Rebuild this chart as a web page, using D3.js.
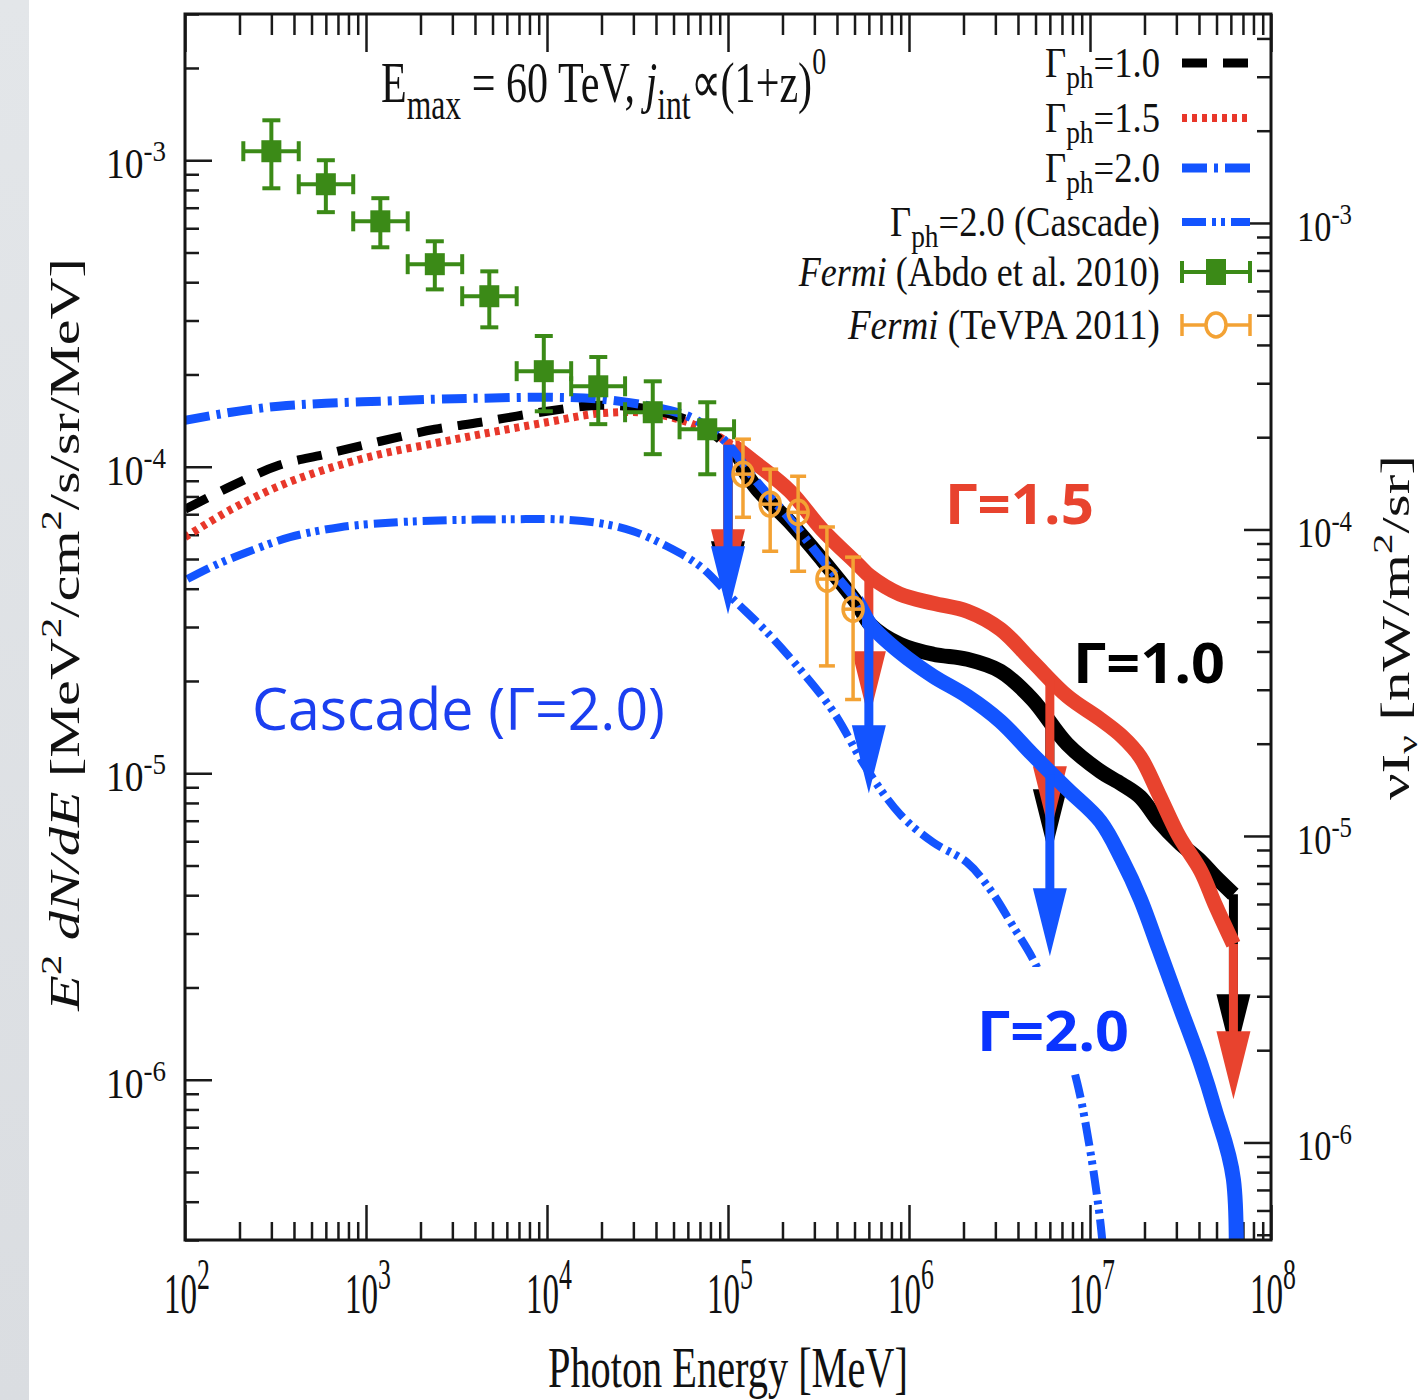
<!DOCTYPE html>
<html><head><meta charset="utf-8">
<script src="https://cdn.jsdelivr.net/npm/d3@7"></script>
<style>
body{margin:0;background:#fff;}
svg{display:block;}
text{white-space:pre;}
</style></head><body>
<svg id="chart" width="1423" height="1400"></svg>
<script>
// ---------------- data ----------------
const modelEnergy = [100,180,330,600,1200,2400,4300,1e4,2e4,3.7e4,6.2e4,9.4e4,1.45e5,2.2e5,3.3e5,5.2e5,6.1e5,8.9e5,1.36e6,2.1e6,3.2e6,4.8e6,7.5e6,1.14e7,1.5e7,1.9e7,2.4e7,3.1e7,4.1e7,4.9e7,6.2e7];
const gamma10 = [7.26e-5,8.64e-5,1.011e-4,1.099e-4,1.211e-4,1.325e-4,1.397e-4,1.517e-4,1.587e-4,1.540e-4,1.407e-4,1.202e-4,8.45e-5,6.59e-5,4.99e-5,3.56e-5,3.06e-5,2.636e-5,2.445e-5,2.354e-5,2.152e-5,1.743e-5,1.243e-5,1.015e-5,9.21e-6,8.35e-6,6.97e-6,5.95e-6,5.16e-6,4.61e-6,4.03e-6];
const gamma15 = [5.89e-5,7.26e-5,8.64e-5,9.81e-5,1.099e-4,1.193e-4,1.276e-4,1.397e-4,1.495e-4,1.495e-4,1.387e-4,1.229e-4,1.019e-4,8.32e-5,6.25e-5,4.81e-5,4.39e-5,3.84e-5,3.585e-5,3.377e-5,2.95e-5,2.319e-5,1.783e-5,1.500e-5,1.320e-5,1.128e-5,8.54e-6,6.23e-6,4.79e-6,3.74e-6,2.767e-6];
const gamma20Energy = [100,180,330,600,1200,2400,4300,1e4,2e4,3.7e4,6.2e4,9.4e4,1.45e5,2.2e5,3.3e5,5.2e5,6.1e5,8.9e5,1.36e6,2.1e6,3.2e6,4.8e6,7.5e6,1.14e7,1.5e7,1.9e7,2.4e7,3.1e7,4.1e7,4.9e7,6.2e7,6.2e7];
const gamma20 = [1.418e-4,1.506e-4,1.576e-4,1.611e-4,1.636e-4,1.661e-4,1.673e-4,1.685e-4,1.661e-4,1.576e-4,1.450e-4,1.229e-4,8.90e-5,6.74e-5,4.99e-5,3.61e-5,3.06e-5,2.481e-5,2.073e-5,1.783e-5,1.477e-5,1.153e-5,8.87e-6,6.97e-6,5.24e-6,3.88e-6,2.67e-6,1.763e-6,1.124e-6,8.01e-7,4.73e-7,1.0e-7];
const cascadeEnergy = [103,143,220,380,719,1484,2803,6490,11360,19630,29870,46030,70030,1.066e5,1.642e5,2.499e5,3.803e5,5.86e5,8.92e5,1.357e6,2.091e6,2.803e6,3.754e6,4.843e6,6.41e6,8.48e6,1.0e7,1.136e7,1.195e7];
const cascade20 = [4.30e-5,4.74e-5,5.26e-5,5.89e-5,6.35e-5,6.59e-5,6.69e-5,6.74e-5,6.74e-5,6.54e-5,6.16e-5,5.50e-5,4.74e-5,3.70e-5,2.884e-5,2.184e-5,1.593e-5,1.030e-5,7.35e-6,5.95e-6,5.12e-6,4.18e-6,3.17e-6,2.472e-6,1.698e-6,9.81e-7,5.93e-7,3.51e-7,2.60e-7];

// Fermi (Abdo et al. 2010)
const abdoEnergy = [300,600,1200,2400,4800,9600,19200,38400,76800];
const abdoELo = [210,425,850,1700,3400,6800,13600,27000,54000];
const abdoEHi = [425,850,1700,3400,6800,13600,27000,54000,108000];
const abdoFlux = [1.07e-3,8.35e-4,6.32e-4,4.58e-4,3.60e-4,2.05e-4,1.83e-4,1.506e-4,1.325e-4];
const abdoFluxLo = [8.10e-4,6.77e-4,5.20e-4,3.79e-4,2.85e-4,1.517e-4,1.377e-4,1.099e-4,9.45e-5];
const abdoFluxHi = [1.35e-3,1.0e-3,7.52e-4,5.44e-4,4.34e-4,2.67e-4,2.28e-4,1.90e-4,1.623e-4];

// Fermi (TeVPA 2011)
const tevpaEnergy = [1.21e5,1.71e5,2.44e5,3.52e5,4.91e5];
const tevpaFlux = [9.46e-5,7.55e-5,7.10e-5,4.30e-5,3.43e-5];
const tevpaFluxLo = [6.84e-5,5.30e-5,4.56e-5,2.24e-5,1.74e-5];
const tevpaFluxHi = [1.23e-4,9.82e-5,9.31e-5,6.36e-5,5.07e-5];

// upper-limit arrows (energy, start flux, tip flux, model)
const arrowEnergy = [1e5,1e5,1e5,6e5,6e5,6e6,6e6,6e6,6.2e7,6.2e7];
const arrowFrom = [1.184e-4,1.229e-4,1.18e-4,4.39e-5,3.06e-5,1.5e-5,2.03e-5,9.9e-6,4.03e-6,2.77e-6];
const arrowTip = [3.43e-5,3.75e-5,3.30e-5,1.50e-5,8.6e-6,5.32e-6,6.32e-6,2.53e-6,1.14e-6,8.64e-7];
const arrowModel = ['g10','g15','g20','g15','g20','g10','g15','g20','g10','g15'];

const xTickExp = [2,3,4,5,6,7,8];
const yTickExp = [-3,-4,-5,-6];
const legendLabels = ['Γph=1.0','Γph=1.5','Γph=2.0','Γph=2.0 (Cascade)','Fermi (Abdo et al. 2010)','Fermi (TeVPA 2011)'];
const conv = 1.602; // MeV/cm^2/s/sr -> nW/m^2/sr

// ---------------- setup ----------------
const svg = d3.select('#chart');
const L = 185, R = 1271, T = 14, B = 1240;
const x = d3.scaleLog().domain([1e2, 1e8]).range([L, R]);
const y = d3.scaleLog().domain([3e-7, 3e-3]).range([B, T]);
const yR = d3.scaleLog().domain([3e-7 * conv, 3e-3 * conv]).range([B, T]);

const SERIF = "'Liberation Serif','Times New Roman',serif";
const SANS = "'Open Sans','Noto Sans',sans-serif";
const RED = '#e8432e', BLUE = '#1354ff', GREEN = '#3b8a17', ORANGE = '#f3a234';

svg.append('rect').attr('x', 0).attr('y', 0).attr('width', 1423).attr('height', 1400).attr('fill', '#fff');
const grad = svg.append('defs').append('linearGradient').attr('id', 'strip').attr('x1', 0).attr('y1', 0).attr('x2', 0).attr('y2', 1);
grad.append('stop').attr('offset', 0).attr('stop-color', '#e3e6e9');
grad.append('stop').attr('offset', 1).attr('stop-color', '#dadde1');
svg.append('rect').attr('x', 0).attr('y', 0).attr('width', 29).attr('height', 1400).attr('fill', 'url(#strip)');

const defs = svg.append('defs');
function clip(id, x0, x1) {
  defs.append('clipPath').attr('id', id).append('rect')
    .attr('x', x0).attr('y', T).attr('width', x1 - x0).attr('height', B - T);
}
clip('cLow', L, x(1.1e5));
clip('cHigh', x(1.1e5), R);
clip('cLowB', L, x(5.5e5));
clip('cHighB', x(5.5e5), R);
clip('cAll', L, R);

// ---------------- rich text helper ----------------
function rich(parent, parts, fs, family, opt = {}) {
  const g = parent.append('g');
  const t = g.append('text').attr('font-family', family).attr('font-size', fs)
    .attr('fill', opt.fill || '#111');
  if (opt.weight) t.attr('font-weight', opt.weight);
  let cur = 0;
  parts.forEach(p => {
    const off = p.sup ? -fs * (p.raise || 0.42) : p.sub ? fs * (p.drop || 0.28) : 0;
    const ts = t.append('tspan').text(p.t).attr('dy', off - cur);
    if (p.sup || p.sub) ts.attr('font-size', fs * (p.scale || 0.7));
    if (p.it) ts.attr('font-style', 'italic');
    cur = off;
  });
  return g;
}
function fit(g, px, py, width, anchor, rot) {
  const bb = g.select('text').node().getBBox();
  const sx = width / bb.width;
  let x0;
  if (anchor === 'end') x0 = -(bb.x + bb.width) * sx;
  else if (anchor === 'middle') x0 = -(bb.x + bb.width / 2) * sx;
  else x0 = -bb.x * sx;
  g.select('text').attr('transform', `translate(${x0},0) scale(${sx},1)`);
  g.attr('transform', `translate(${px},${py})` + (rot ? ` rotate(${rot})` : ''));
}

// ---------------- axes ----------------
const majorX = xTickExp.map(e => Math.pow(10, e));
const minorX = x.ticks().filter(v => !majorX.some(m => Math.abs(m - v) / m < 1e-6));
const majorY = yTickExp.map(e => Math.pow(10, e));
const minorY = y.ticks().filter(v => !majorY.some(m => Math.abs(m - v) / m < 1e-6));
const majorYR = majorY;
const minorYR = yR.ticks().filter(v => !majorYR.some(m => Math.abs(m - v) / m < 1e-6));

function axisG(axis, tx, ty) {
  const g = svg.append('g').attr('transform', `translate(${tx},${ty})`).call(axis);
  g.select('.domain').remove();
  g.selectAll('.tick line').attr('stroke', '#1a1a1a').attr('stroke-width', 2.5);
  g.selectAll('.tick text').remove();
  return g;
}
axisG(d3.axisBottom(x).tickValues(majorX).tickSize(-35).tickFormat(''), 0, B);
axisG(d3.axisBottom(x).tickValues(minorX).tickSize(-18).tickFormat(''), 0, B);
axisG(d3.axisTop(x).tickValues(majorX).tickSize(-38).tickFormat(''), 0, T);
axisG(d3.axisTop(x).tickValues(minorX).tickSize(-21).tickFormat(''), 0, T);
axisG(d3.axisLeft(y).tickValues(majorY).tickSize(-27).tickFormat(''), L, 0);
axisG(d3.axisLeft(y).tickValues(minorY).tickSize(-14).tickFormat(''), L, 0);
axisG(d3.axisRight(yR).tickValues(majorYR).tickSize(-27).tickFormat(''), R, 0);
axisG(d3.axisRight(yR).tickValues(minorYR).tickSize(-14).tickFormat(''), R, 0);

// tick labels
xTickExp.forEach(e => {
  const g = rich(svg, [{t: '10'}, {t: String(e), sup: true, raise: 0.42, scale: 0.78}], 57, SERIF);
  fit(g, x(Math.pow(10, e)) + 2, B + 73, 46, 'middle');
});
yTickExp.forEach(e => {
  const g = rich(svg, [{t: '10'}, {t: String(e), sup: true, raise: 0.4, scale: 0.72}], 42, SERIF);
  fit(g, 166, y(Math.pow(10, e)) + 18, 60, 'end');
  const g2 = rich(svg, [{t: '10'}, {t: String(e), sup: true, raise: 0.4, scale: 0.72}], 42, SERIF);
  fit(g2, 1297, yR(Math.pow(10, e)) + 18, 55, 'start');
});

// axis titles
fit(rich(svg, [{t: 'Photon Energy [MeV]'}], 57, SERIF), 548, 1387, 360, 'start');
fit(rich(svg, [{t: 'E', it: true}, {t: '2', sup: true}, {t: ' '}, {t: 'dN/dE', it: true}, {t: ' [MeV'}, {t: '2', sup: true}, {t: '/cm'}, {t: '2', sup: true}, {t: '/s/sr/MeV]'}], 43, SERIF),
  79, 1012, 754, 'start', -90);
fit(rich(svg, [{t: 'νI'}, {t: 'ν', sub: true, drop: 0.2}, {t: ' [nW/m'}, {t: '2', sup: true}, {t: '/sr]'}], 40, SERIF),
  1409, 800, 345, 'start', -90);

// title
fit(rich(svg, [{t: 'E'}, {t: 'max', sub: true, drop: 0.3, scale: 0.75}, {t: ' = 60 TeV, '}, {t: 'j', it: true}, {t: 'int', sub: true, drop: 0.3, scale: 0.75}, {t: '∝(1+z)'}, {t: '0', sup: true, raise: 0.48, scale: 0.66}], 58, SERIF),
  381, 102, 445, 'start');

// ---------------- curves ----------------
const lineGen = d3.line().x(d => x(d[0])).y(d => y(d[1])).curve(d3.curveCatmullRom.alpha(0.5));
const pts = (es, vs) => es.map((e, i) => [e, vs[i]]);
const dG10 = pts(modelEnergy, gamma10), dG15 = pts(modelEnergy, gamma15), dG20 = pts(gamma20Energy, gamma20), dCas = pts(cascadeEnergy, cascade20);
const styles = {
  g10: {color: '#000', dash: '25,16', w: 9},
  g15: {color: '#e8372a', dash: '5,5', w: 8},
  g20: {color: BLUE, dash: '25,7,4,7', w: 9},
  cas: {color: BLUE, dash: '24,6,4,5,4,6', w: 8}
};
function path(data, st, clipId, thick) {
  svg.append('path').attr('d', lineGen(data)).attr('fill', 'none')
    .attr('stroke', thick ? thick.color : st.color)
    .attr('stroke-width', thick ? thick.w : st.w)
    .attr('stroke-dasharray', thick ? null : st.dash)
    .attr('stroke-linejoin', 'round')
    .attr('clip-path', `url(#${clipId})`);
}
function arrows(model, color) {
  arrowEnergy.forEach((e, i) => {
    if (arrowModel[i] !== model) return;
    const ax = x(e), y0 = y(arrowFrom[i]), y1 = y(arrowTip[i]);
    const hl = 68, hw = 17;
    svg.append('line').attr('x1', ax).attr('x2', ax).attr('y1', y0).attr('y2', y1 - hl + 4)
      .attr('stroke', color).attr('stroke-width', 9);
    svg.append('path').attr('d', `M${ax - hw},${y1 - hl}L${ax + hw},${y1 - hl}L${ax},${y1}Z`).attr('fill', color);
  });
}
path(dG15, styles.g15, 'cLow');
path(dG10, styles.g10, 'cLow');
path(dG10, styles.g10, 'cHigh', {color: '#000', w: 15});
arrows('g10', '#000');
path(dG15, styles.g15, 'cHigh', {color: RED, w: 15});
arrows('g15', RED);
path(dG20, styles.g20, 'cLowB');
path(dCas, styles.cas, 'cAll');
path(dG20, styles.g20, 'cHighB', {color: BLUE, w: 15});
arrows('g20', BLUE);

// annotation labels
svg.append('rect').attr('x', 962).attr('y', 967).attr('width', 178).attr('height', 106).attr('fill', '#fff');
fit(rich(svg, [{t: 'Γ=1.5'}], 56, SANS, {fill: RED, weight: 700}), 945, 524, 149, 'start');
fit(rich(svg, [{t: 'Γ=1.0'}], 56, SANS, {fill: '#000', weight: 700}), 1073, 683, 152, 'start');
fit(rich(svg, [{t: 'Γ=2.0'}], 56, SANS, {fill: '#0a34ff', weight: 700}), 977, 1051, 152, 'start');
fit(rich(svg, [{t: 'Cascade (Γ=2.0)'}], 58, SANS, {fill: '#1b3ff0'}), 252, 730, 413, 'start');

// ---------------- data points ----------------
abdoEnergy.forEach((e, i) => {
  const cx = x(e), cy = y(abdoFlux[i]);
  const x0 = x(abdoELo[i]), x1 = x(abdoEHi[i]), y0 = y(abdoFluxHi[i]), y1 = y(abdoFluxLo[i]);
  const g = svg.append('g').attr('stroke', GREEN).attr('stroke-width', 4).attr('fill', GREEN);
  g.append('line').attr('x1', x0).attr('x2', x1).attr('y1', cy).attr('y2', cy);
  g.append('line').attr('x1', cx).attr('x2', cx).attr('y1', y0).attr('y2', y1);
  g.append('line').attr('x1', x0).attr('x2', x0).attr('y1', cy - 10).attr('y2', cy + 10);
  g.append('line').attr('x1', x1).attr('x2', x1).attr('y1', cy - 10).attr('y2', cy + 10);
  g.append('line').attr('x1', cx - 9).attr('x2', cx + 9).attr('y1', y0).attr('y2', y0);
  g.append('line').attr('x1', cx - 9).attr('x2', cx + 9).attr('y1', y1).attr('y2', y1);
  g.append('rect').attr('x', cx - 10).attr('y', cy - 11).attr('width', 20).attr('height', 22).attr('stroke', 'none');
});
tevpaEnergy.forEach((e, i) => {
  const cx = x(e), cy = y(tevpaFlux[i]), y0 = y(tevpaFluxHi[i]), y1 = y(tevpaFluxLo[i]);
  const g = svg.append('g').attr('stroke', ORANGE).attr('stroke-width', 3.5).attr('fill', 'none');
  g.append('line').attr('x1', cx).attr('x2', cx).attr('y1', y0).attr('y2', y1);
  g.append('line').attr('x1', cx - 8).attr('x2', cx + 8).attr('y1', y0).attr('y2', y0);
  g.append('line').attr('x1', cx - 8).attr('x2', cx + 8).attr('y1', y1).attr('y2', y1);
  g.append('line').attr('x1', cx - 10).attr('x2', cx + 10).attr('y1', cy).attr('y2', cy);
  g.append('ellipse').attr('cx', cx).attr('cy', cy).attr('rx', 10).attr('ry', 12);
});

// ---------------- frame ----------------
svg.append('rect').attr('x', L).attr('y', T).attr('width', R - L).attr('height', B - T)
  .attr('fill', 'none').attr('stroke', '#151515').attr('stroke-width', 3);

// ---------------- legend ----------------
const legY = [63, 118, 168, 222, 272, 325];
const legW = [115, 115, 115, 270, 362, 313];
const legendParts = [
  [{t: 'Γ'}, {t: 'ph', sub: true, drop: 0.27, scale: 0.75}, {t: '=1.0'}],
  [{t: 'Γ'}, {t: 'ph', sub: true, drop: 0.27, scale: 0.75}, {t: '=1.5'}],
  [{t: 'Γ'}, {t: 'ph', sub: true, drop: 0.27, scale: 0.75}, {t: '=2.0'}],
  [{t: 'Γ'}, {t: 'ph', sub: true, drop: 0.27, scale: 0.75}, {t: '=2.0 (Cascade)'}],
  [{t: 'Fermi', it: true}, {t: ' (Abdo et al. 2010)'}],
  [{t: 'Fermi', it: true}, {t: ' (TeVPA 2011)'}]
];
legendLabels.forEach((lab, i) => {
  const g = rich(svg, legendParts[i], 42, SERIF);
  g.select('text').attr('aria-label', lab);
  fit(g, 1160, legY[i] + 14, legW[i], 'end');
});
const lx0 = 1182, lx1 = 1250, lxm = 1216;
['g10', 'g15', 'g20', 'cas'].forEach((k, i) => {
  const st = styles[k];
  svg.append('line').attr('x1', lx0).attr('x2', lx1).attr('y1', legY[i]).attr('y2', legY[i])
    .attr('stroke', st.color).attr('stroke-width', st.w).attr('stroke-dasharray', st.dash);
});
{
  const gy = legY[4];
  const g = svg.append('g').attr('stroke', GREEN).attr('stroke-width', 4).attr('fill', GREEN);
  g.append('line').attr('x1', lx0).attr('x2', lx1).attr('y1', gy).attr('y2', gy);
  g.append('line').attr('x1', lx0).attr('x2', lx0).attr('y1', gy - 11).attr('y2', gy + 11);
  g.append('line').attr('x1', lx1).attr('x2', lx1).attr('y1', gy - 11).attr('y2', gy + 11);
  g.append('rect').attr('x', lxm - 10).attr('y', gy - 13).attr('width', 20).attr('height', 26).attr('stroke', 'none');
  const oy = legY[5];
  const g2 = svg.append('g').attr('stroke', ORANGE).attr('stroke-width', 3.5).attr('fill', 'none');
  g2.append('line').attr('x1', lx0).attr('x2', lx1).attr('y1', oy).attr('y2', oy);
  g2.append('line').attr('x1', lx0).attr('x2', lx0).attr('y1', oy - 11).attr('y2', oy + 11);
  g2.append('line').attr('x1', lx1).attr('x2', lx1).attr('y1', oy - 11).attr('y2', oy + 11);
  g2.append('ellipse').attr('cx', lxm).attr('cy', oy).attr('rx', 10).attr('ry', 12).attr('fill', '#fff');
}
</script>
</body></html>
